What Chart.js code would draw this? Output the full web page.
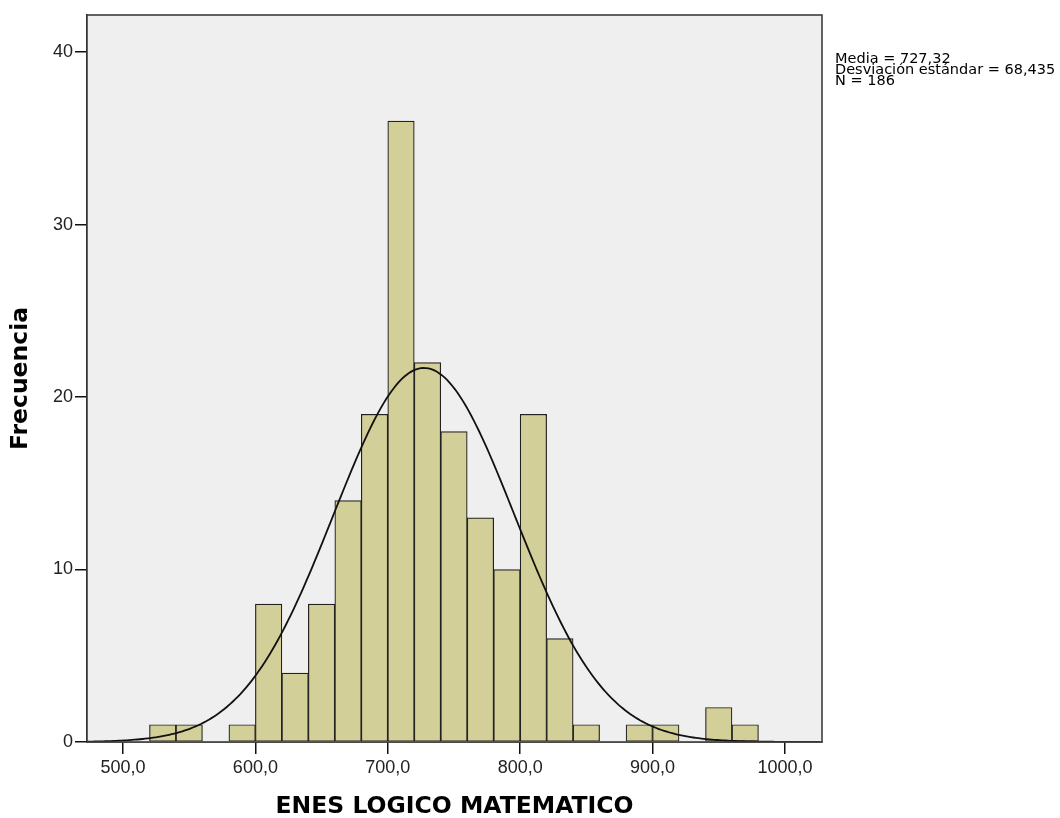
<!DOCTYPE html>
<html>
<head>
<meta charset="utf-8">
<title>ENES LOGICO MATEMATICO</title>
<script src="https://cdn.jsdelivr.net/npm/chart.js@4.4.1/dist/chart.umd.min.js"></script>
<style>
  html, body { margin: 0; padding: 0; background: #fff; }
  #wrap { width: 1060px; height: 818px; position: relative; }
</style>
</head>
<body>
<div id="wrap"><canvas id="hist" width="1060" height="818"></canvas></div>
<script>
// ---- histogram data (bin width 20) ----
const binStarts = [520, 540, 560, 580, 600, 620, 640, 660, 680, 700, 720, 740,
                   760, 780, 800, 820, 840, 860, 880, 900, 920, 940, 960];
const counts    = [1, 1, 0, 1, 8, 4, 8, 14, 19, 36, 22, 18,
                   13, 10, 19, 6, 1, 0, 1, 1, 0, 2, 1];
const binWidth = 20;

// summary stats shown at the right
const media = 727.32;
const desviacion = 68.435;
const nTotal = 186;

// axes
const xTicks = [500, 600, 700, 800, 900, 1000];
const yTicks = [0, 10, 20, 30, 40];
const xMin = 472.8, xMax = 1028;
const yMax = 42.15;

const coma = (v, d) => v.toFixed(d).replace('.', ',');

// bars sit on the bin centres
const barData = binStarts.map((s, i) => ({ x: s + binWidth / 2, y: counts[i] }));

// normal curve scaled to the histogram (N * bin width * pdf)
const curveData = [];
for (let x = xMin; x <= xMax; x += 2) {
  const z = (x - media) / desviacion;
  const y = nTotal * binWidth * Math.exp(-0.5 * z * z) / (desviacion * Math.sqrt(2 * Math.PI));
  curveData.push({ x: x, y: y });
}

const plotFrame = {
  id: 'plotFrame',
  beforeDatasetsDraw(chart) {
    const { ctx, chartArea: a } = chart;
    ctx.save();
    ctx.fillStyle = '#efefef';
    ctx.fillRect(a.left, a.top, a.right - a.left, a.bottom - a.top);
    ctx.restore();
  },
  afterDraw(chart) {
    const { ctx, chartArea: a } = chart;
    ctx.save();
    ctx.strokeStyle = '#3c3c3c';
    ctx.lineWidth = 1.6;
    ctx.strokeRect(a.left, a.top, a.right - a.left, a.bottom - a.top);

    // stats box text
    ctx.fillStyle = '#000';
    ctx.font = '14.5px "DejaVu Sans", sans-serif';
    ctx.textBaseline = 'alphabetic';
    const lines = [
      'Media = ' + coma(media, 2),
      'Desviación estándar = ' + coma(desviacion, 3),
      'N = ' + nTotal
    ];
    const x0 = a.right + 13;
    lines.forEach((t, i) => {
      ctx.fillText(t, x0, 63 + i * 11);
    });
    ctx.restore();
  }
};

const tickFont = { family: '"Liberation Sans", Arial, sans-serif', size: 18 };
const titleFont = { family: '"DejaVu Sans", sans-serif', size: 23.5, weight: 'bold' };

new Chart(document.getElementById('hist'), {
  type: 'bar',
  data: {
    datasets: [
      {
        type: 'line',
        data: curveData,
        borderColor: '#111',
        borderWidth: 1.8,
        pointRadius: 0,
        tension: 0,
        fill: false,
        order: 0
      },
      {
        type: 'bar',
        data: barData,
        backgroundColor: '#d3cf98',
        borderColor: '#222',
        borderWidth: 1.2,
        borderSkipped: false,
        barPercentage: 1,
        categoryPercentage: 1,
        order: 1
      }
    ]
  },
  options: {
    responsive: false,
    devicePixelRatio: 1,
    animation: false,
    layout: { padding: { left: 7, top: 15, right: 238, bottom: -3 } },
    plugins: {
      legend: { display: false },
      tooltip: { enabled: false }
    },
    scales: {
      x: {
        type: 'linear',
        min: xMin,
        max: xMax,
        offset: false,
        grid: { offset: false, drawOnChartArea: false, drawTicks: true, tickLength: 12, color: '#111', lineWidth: 1.5 },
        border: { display: true, color: '#111', width: 1.5 },
        afterBuildTicks(scale) { scale.ticks = xTicks.map(v => ({ value: v })); },
        afterFit(scale) { scale.height = 79; },
        ticks: {
          font: tickFont,
          color: '#222',
          padding: 3,
          maxRotation: 0,
          callback: v => coma(v, 1)
        },
        title: {
          display: true,
          text: 'ENES LOGICO MATEMATICO',
          font: titleFont,
          color: '#000',
          padding: { top: 0, bottom: 0 }
        }
      },
      y: {
        min: 0,
        max: yMax,
        grid: { drawOnChartArea: false, drawTicks: true, tickLength: 12, color: '#111', lineWidth: 1.5 },
        border: { display: true, color: '#111', width: 1.5 },
        afterBuildTicks(scale) { scale.ticks = yTicks.map(v => ({ value: v })); },
        afterFit(scale) { scale.width = 80; },
        ticks: {
          font: tickFont,
          color: '#222',
          padding: 2,
          callback: v => String(v)
        },
        title: {
          display: true,
          text: 'Frecuencia',
          font: titleFont,
          color: '#000',
          padding: { top: 0, bottom: 0 }
        }
      }
    }
  },
  plugins: [plotFrame]
});
</script>
</body>
</html>
